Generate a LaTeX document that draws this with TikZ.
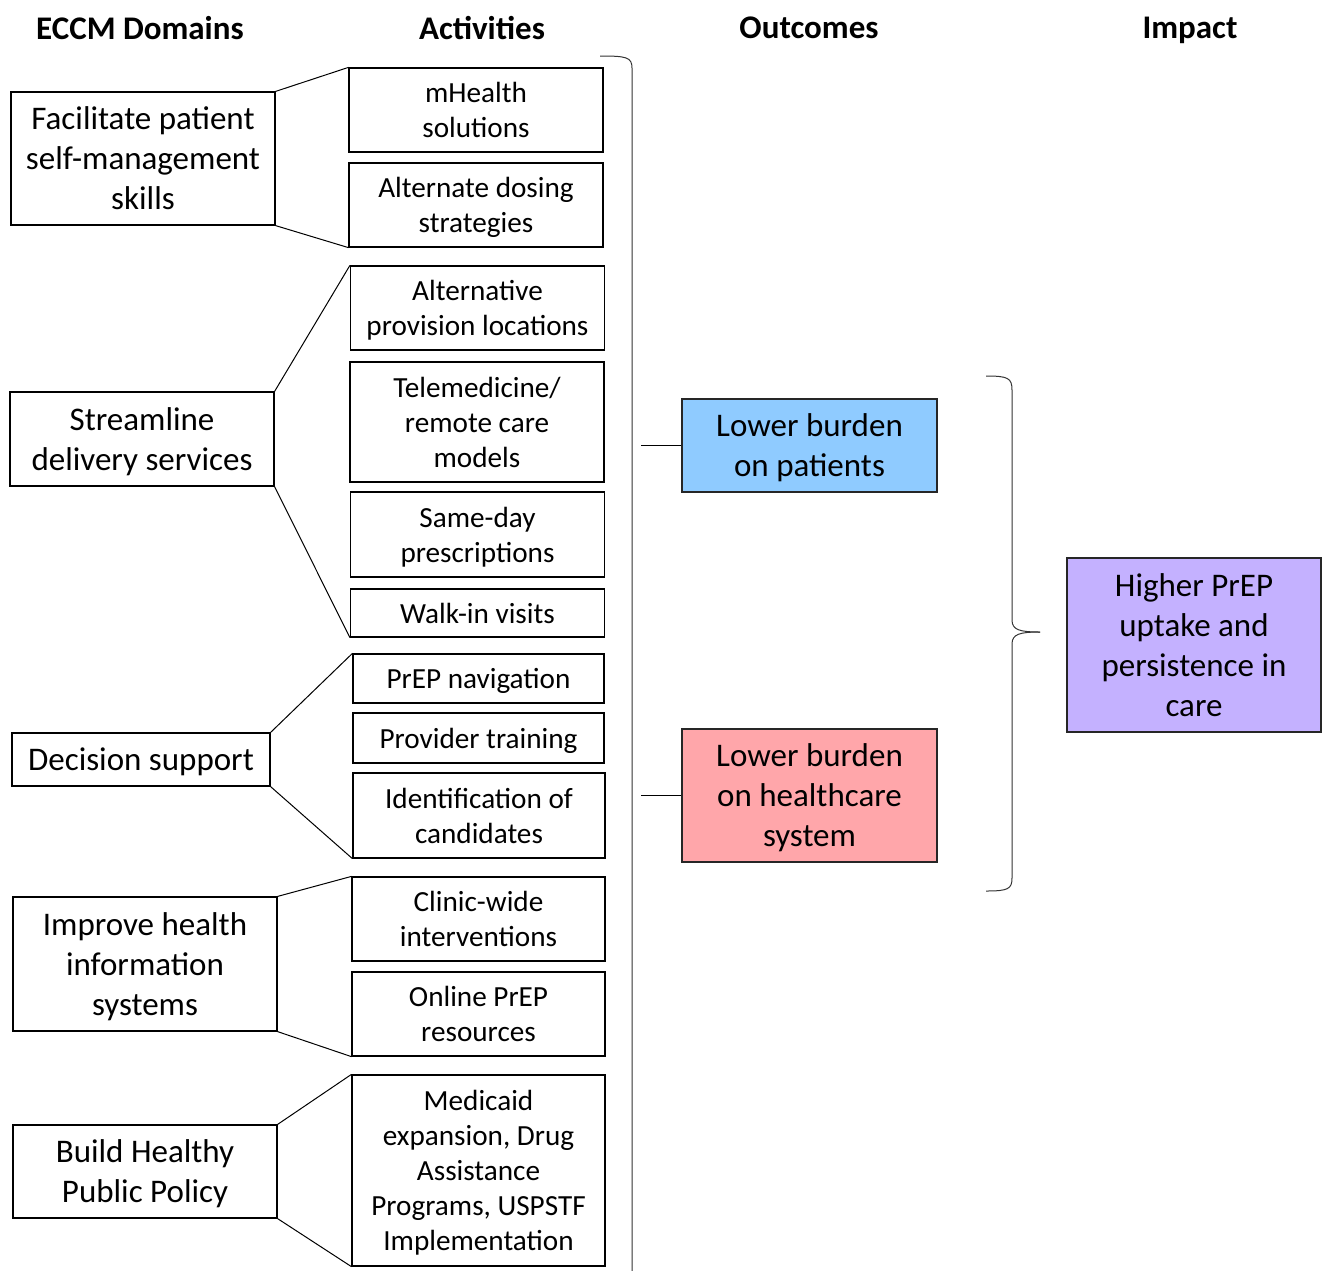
\documentclass[tikz,border=0pt]{standalone}
\usepackage{fontspec}
\setmainfont{Carlito}
\usepackage{xcolor}
\usepackage{tikz}
\definecolor{patientblue}{RGB}{143,203,255}
\definecolor{systempink}{RGB}{255,166,170}
\definecolor{impactpurple}{RGB}{196,177,255}

\begin{document}
\begin{tikzpicture}[x=0.5pt,y=-0.5pt,
    heading/.style={font=\fontsize{16.5}{20}\selectfont\bfseries,text depth=0pt},
    eccmbox/.style={draw,line width=0.6pt,align=center,inner sep=0pt,minimum width=132pt,
      text depth=0pt,font=\fontsize{16.5}{20}\selectfont},
    actbox/.style={draw,line width=0.6pt,align=center,inner sep=0pt,minimum width=127pt,
      text depth=0pt,font=\fontsize{14.6}{17.5}\selectfont},
    outbox/.style={draw=black!85,line width=0.6pt,align=center,inner sep=0pt,minimum width=127.5pt,
      text depth=0pt,font=\fontsize{16.5}{20}\selectfont},
    link/.style={line width=0.5pt}]
\useasboundingbox (0,0) rectangle (1322,1270);
% column headings
\node[heading] at (140,28) (hdom) {ECCM Domains};
\node[heading] at (482,28) (hact) {Activities};
\node[heading] at (809,28) (hout) {Outcomes};
\node[heading] at (1190,28) (himp) {Impact};
% ECCM domains
\node[eccmbox,minimum height=66.5pt] at (143,158.5) (d1) {Facilitate patient\\self-management\\skills};
\node[eccmbox,minimum height=47pt] at (142,439) (d2) {Streamline\\delivery services};
\node[eccmbox,minimum width=129pt,minimum height=26.5pt] at (141,759.5) (d3) {Decision support};
\node[eccmbox,minimum height=67pt] at (145,964) (d4) {Improve health\\information\\systems};
\node[eccmbox,minimum height=46.5pt] at (145,1171.5) (d5) {Build Healthy\\Public Policy};
% activities
\node[actbox,minimum height=42pt] at (476,110) (a1) {mHealth\\solutions};
\node[actbox,minimum height=42pt] at (476,205) (a2) {Alternate dosing\\strategies};
\node[actbox,minimum height=42pt] at (477.5,308) (a3) {Alternative\\provision locations};
\node[actbox,minimum height=60pt] at (477,422) (a4) {Telemedicine/\\remote care\\models};
\node[actbox,minimum height=42.5pt] at (477.5,534.5) (a5) {Same-day\\prescriptions};
\node[actbox,minimum height=24pt] at (477.5,613) (a6) {Walk-in visits};
\node[actbox,minimum width=125.5pt,minimum height=24.5pt] at (478.5,678.5) (a7) {PrEP navigation};
\node[actbox,minimum width=125.5pt,minimum height=25pt] at (478.5,738) (a8) {Provider training};
\node[actbox,minimum width=126pt,minimum height=42.5pt] at (479,815.5) (a9) {Identification of\\candidates};
\node[actbox,minimum width=126.5pt,minimum height=42pt] at (478.5,919) (a10) {Clinic-wide\\interventions};
\node[actbox,minimum width=126.5pt,minimum height=42pt] at (478.5,1014) (a11) {Online PrEP\\resources};
\node[actbox,minimum width=126.5pt,minimum height=95.5pt] at (478.5,1170.5) (a12) {Medicaid\\expansion, Drug\\Assistance\\Programs, USPSTF\\Implementation};
% domain to activity fans
\draw[link] (d1.north east) -- (a1.north west);
\draw[link] (d1.south east) -- (a2.south west);
\draw[link] (d2.north east) -- (a3.north west);
\draw[link] (d2.south east) -- (a6.south west);
\draw[link] (d3.north east) -- (a7.north west);
\draw[link] (d3.south east) -- (a9.south west);
\draw[link] (d4.north east) -- (a10.north west);
\draw[link] (d4.south east) -- (a11.south west);
\draw[link] (d5.north east) -- (a12.north west);
\draw[link] (d5.south east) -- (a12.south west);
% brace round the activities
\draw[link,black!80] (600,56) .. controls (626,56) and (632,57) .. (632,68) -- (632,1272);
% outcomes
\node[outbox,fill=patientblue,minimum height=46.5pt] at (809.5,445.5) (o1) {Lower burden\\on patients};
\node[outbox,fill=systempink,minimum height=66.5pt] at (809.5,795.5) (o2) {Lower burden\\on healthcare\\system};
\coordinate (p1) at (641,445.5);
\coordinate (p2) at (641,795.5);
\draw[link] (p1) -- (o1.west);
\draw[link] (p2) -- (o2.west);
% brace round the outcomes
\coordinate (tip) at (1040,632);
\draw[link,black!80] (986,376) .. controls (1008,376) and (1012,378) .. (1012,390) -- (1012,620)
  .. controls (1012,630) and (1020,632) .. (tip);
\draw[link,black!80] (tip) .. controls (1020,632) and (1012,634) .. (1012,644) -- (1012,878)
  .. controls (1012,889) and (1008,891) .. (986,891);
% impact
\node[outbox,fill=impactpurple,minimum width=127pt,minimum height=87pt] at (1194,645) (imp) {Higher PrEP\\uptake and\\persistence in\\care};
\end{tikzpicture}
\end{document}
